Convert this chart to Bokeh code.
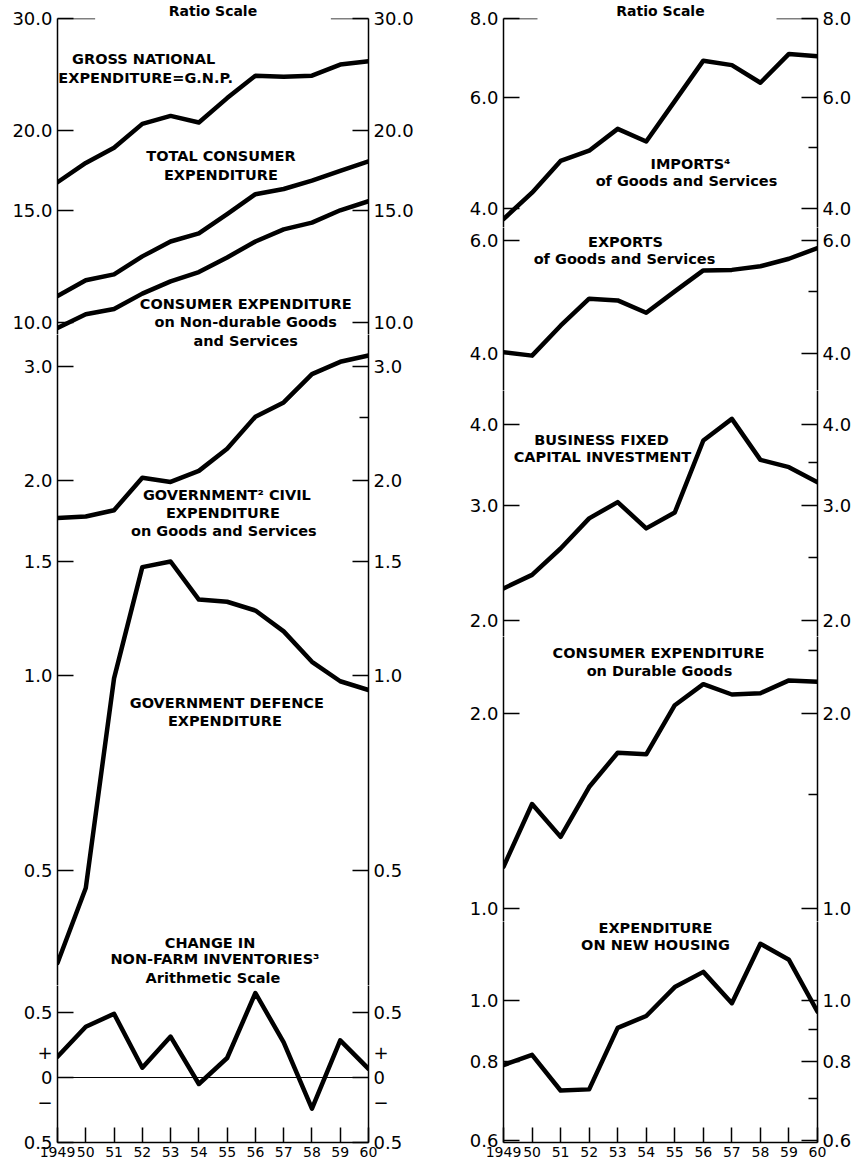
import math
from bokeh.plotting import figure
from bokeh.models import Range1d, FixedTicker, LogAxis, LinearAxis, Label, Span, Arrow, PrintfTickFormatter
from bokeh.layouts import row, column
from bokeh.embed import file_html
from bokeh.resources import INLINE

# ---------------- data ----------------
YEARS = list(range(1949, 1961))
YEAR_LABELS = ["1949", "50", "51", "52", "53", "54", "55", "56", "57", "58", "59", "60"]

GNP = [16.6, 17.8, 18.8, 20.5, 21.1, 20.6, 22.5, 24.4, 24.3, 24.4, 25.4, 25.7]
TOTAL_CONSUMER = [11.0, 11.65, 11.9, 12.7, 13.4, 13.8, 14.8, 15.9, 16.2, 16.7, 17.3, 17.9]
NONDURABLE = [9.8, 10.3, 10.5, 11.1, 11.6, 12.0, 12.65, 13.4, 14.0, 14.35, 15.0, 15.5]
GOV_CIVIL = [1.75, 1.76, 1.80, 2.02, 1.99, 2.07, 2.24, 2.51, 2.64, 2.92, 3.05, 3.12]
GOV_DEFENCE = [0.36, 0.47, 0.99, 1.47, 1.50, 1.31, 1.30, 1.26, 1.17, 1.05, 0.98, 0.95]
INVENTORIES = [0.16, 0.39, 0.49, 0.075, 0.315, -0.05, 0.15, 0.65, 0.27, -0.24, 0.285, 0.067]
IMPORTS = [3.85, 4.24, 4.76, 4.94, 5.35, 5.11, 5.92, 6.86, 6.75, 6.33, 7.03, 6.97]
EXPORTS = [4.02, 3.97, 4.42, 4.87, 4.84, 4.63, 5.0, 5.39, 5.40, 5.47, 5.62, 5.84]
BUSINESS_INV = [2.24, 2.35, 2.58, 2.87, 3.04, 2.77, 2.93, 3.78, 4.08, 3.53, 3.44, 3.26]
DURABLES = [1.16, 1.45, 1.29, 1.54, 1.74, 1.73, 2.06, 2.22, 2.14, 2.15, 2.25, 2.24]
HOUSING = [0.79, 0.82, 0.72, 0.723, 0.905, 0.945, 1.05, 1.11, 0.99, 1.23, 1.16, 0.96]

TICKS_A = [10, 15, 20, 30]
TICKS_B = [0.5, 1.0, 1.5, 2.0, 3.0]
MINOR_B = [2.5]
TICKS_C = [-0.5, 0, 0.5]
TICK_LABELS_C = ["0.5", "+\n0\n\u2212", "0.5"]
TICKS_R1 = [4, 6, 8]
MINOR_R1 = [5, 7]
TICKS_R2 = [4, 6]
MINOR_R2 = [5]
TICKS_R3 = [2, 3, 4]
MINOR_R3 = [2.5, 3.5]
TICKS_R4 = [1, 2]
MINOR_R4 = [1.5, 2.5]
TICKS_R5 = [0.6, 0.8, 1.0]
MINOR_R5 = [0.7, 0.9]

FONT = "DejaVu Sans"
LW = 4.5
TXT = "14.5px"


def style_axis(ax, ticks, minor, size="18px"):
    ax.ticker = FixedTicker(ticks=ticks, minor_ticks=minor)
    ax.major_tick_in = 16
    ax.major_tick_out = 0
    ax.minor_tick_in = 9
    ax.minor_tick_out = 0
    ax.axis_line_width = 1.5
    ax.major_tick_line_width = 1.5
    ax.minor_tick_line_width = 1.5
    ax.axis_line_color = "black"
    ax.major_tick_line_color = "black"
    ax.minor_tick_line_color = "black"
    ax.major_label_text_font = FONT
    ax.major_label_text_font_size = size
    ax.major_label_text_color = "black"
    ax.major_label_standoff = 5


def panel(width, height, bl, br, bt, bb, yr, log, ticks, minor, bottom=False, overrides=None, title=None):
    kw = {}
    if title:
        kw["title"] = title
    p = figure(width=width, height=height,
               x_range=Range1d(1949, 1960), y_range=Range1d(*yr),
               y_axis_type="log" if log else "linear",
               x_axis_location="below" if bottom else None,
               output_backend="svg", toolbar_location=None,
               min_border_left=bl, min_border_right=br,
               min_border_top=bt, min_border_bottom=bb, **kw)
    if title:
        p.title.align = "center"
        p.title.text_font = FONT
        p.title.text_font_style = "bold"
        p.title.text_font_size = "14px"
        p.title.text_color = "black"
        p.title.standoff = 0
    p.outline_line_color = None
    p.background_fill_color = "white"
    p.border_fill_color = "white"
    p.grid.visible = False
    left = p.yaxis[0]
    style_axis(left, ticks, [])
    right = LogAxis() if log else LinearAxis()
    style_axis(right, ticks, minor)
    if log:
        left.formatter = PrintfTickFormatter(format="%.1f")
        right.formatter = PrintfTickFormatter(format="%.1f")
    if overrides:
        left.major_label_overrides = overrides
        right.major_label_overrides = overrides
    p.add_layout(right, "right")
    if bottom:
        xa = p.xaxis[0]
        style_axis(xa, YEARS, [], size="14px")
        xa.major_tick_in = 15
        xa.major_label_standoff = 4
        xa.major_label_overrides = dict(zip(YEARS, YEAR_LABELS))
    return p


def mapper_log(x0, v0, y0, k):
    return lambda xr, yr: (1949 + (xr - x0) / 28.55, v0 * math.exp(-(yr - y0) / k))


def txt(p, m, text, xr, yr, size=TXT, bold=True):
    x, y = m(xr, yr)
    p.add_layout(Label(x=x, y=y, text=text, text_align="center", text_baseline="middle",
                       text_font=FONT, text_font_style="bold" if bold else "normal",
                       text_font_size=size, text_color="black"))


def series(p, vals):
    p.line(YEARS, vals, line_width=LW, line_color="black", line_join="round", line_cap="round")


def top_ticks(p, top, left_len, right_len):
    p.add_layout(Arrow(end=None, start=None, x_start=1949, y_start=top, x_end=1949 + left_len / 28.55,
                       y_end=top, line_width=1.5, line_color="black"))
    p.add_layout(Arrow(end=None, start=None, x_start=1960 - right_len / 28.55, y_start=top, x_end=1960,
                       y_end=top, line_width=1.5, line_color="black"))


LW_L, LB_L, RB_L = 416, 57, 45
LW_R, LB_R, RB_R = 443, 87, 42

# ---------------- left column ----------------
pA = panel(LW_L, 334, LB_L, RB_L, 17, 0, (9.576, 30), True, TICKS_A, [], title="Ratio Scale")
for s in (GNP, TOTAL_CONSUMER, NONDURABLE):
    series(pA, s)
top_ticks(pA, 30, 38, 38)
mA = mapper_log(57, 30, 17, 277.6)
txt(pA, mA, "GROSS NATIONAL", 144, 58)
txt(pA, mA, "EXPENDITURE=G.N.P.", 146, 77)
txt(pA, mA, "TOTAL CONSUMER", 222, 155)
txt(pA, mA, "EXPENDITURE", 222, 174)
txt(pA, mA, "CONSUMER EXPENDITURE", 247, 303)
txt(pA, mA, "on Non-durable Goods", 247, 321)

pB = panel(LW_L, 651, LB_L, RB_L, 0, 0, (0.3323, 3.361), True, TICKS_B, MINOR_B)
series(pB, GOV_CIVIL)
series(pB, GOV_DEFENCE)
mB = mapper_log(57, 3.0, 366, 281.3)
txt(pB, mB, "and Services", 247, 341)
txt(pB, mB, "GOVERNMENT\u00b2 CIVIL", 228, 495)
txt(pB, mB, "EXPENDITURE", 224, 513)
txt(pB, mB, "on Goods and Services", 225, 531)
txt(pB, mB, "GOVERNMENT DEFENCE", 228, 702)
txt(pB, mB, "EXPENDITURE", 226, 720)
txt(pB, mB, "CHANGE IN", 211, 942)
txt(pB, mB, "NON-FARM INVENTORIES\u00b3", 216, 958)
txt(pB, mB, "Arithmetic Scale", 214, 977)

pC = panel(LW_L, 182, LB_L, RB_L, 0, 25, (-0.5, 0.7077), False, TICKS_C, [], bottom=True,
           overrides=dict(zip(TICKS_C, TICK_LABELS_C)))
pC.add_layout(Span(location=0, dimension="width", line_color="black", line_width=1))
series(pC, INVENTORIES)

# ---------------- right column ----------------
p1 = panel(LW_R, 227, LB_R, RB_R, 17, 0, (3.734, 8.0), True, TICKS_R1, MINOR_R1, title="Ratio Scale")
series(p1, IMPORTS)
top_ticks(p1, 8.0, 34, 41)
m1 = mapper_log(503, 8.0, 17, 275.6)
txt(p1, m1, "IMPORTS\u2074", 690, 163)
txt(p1, m1, "of Goods and Services", 686, 180)

p2 = panel(LW_R, 163, LB_R, RB_R, 0, 0, (3.503, 6.287), True, TICKS_R2, MINOR_R2)
series(p2, EXPORTS)
m2 = mapper_log(503, 6.0, 240, 278.7)
txt(p2, m2, "EXPORTS", 625, 241)
txt(p2, m2, "of Goods and Services", 624, 258)

p3 = panel(LW_R, 246, LB_R, RB_R, 0, 0, (1.890, 4.511), True, TICKS_R3, MINOR_R3)
series(p3, BUSINESS_INV)
m3 = mapper_log(503, 4.0, 424, 282.8)
txt(p3, m3, "BUSINESS FIXED", 601, 440)
txt(p3, m3, "CAPITAL INVESTMENT", 602, 457)

p4 = panel(LW_R, 285, LB_R, RB_R, 0, 0, (0.9548, 2.630), True, TICKS_R4, MINOR_R4)
series(p4, DURABLES)
m4 = mapper_log(503, 2.0, 713, 281.3)
txt(p4, m4, "CONSUMER EXPENDITURE", 658, 652)
txt(p4, m4, "on Durable Goods", 659, 670)

p5 = panel(LW_R, 246, LB_R, RB_R, 0, 25, (0.5956, 1.334), True, TICKS_R5, MINOR_R5, bottom=True)
series(p5, HOUSING)
m5 = mapper_log(503, 1.0, 1000, 274.0)
txt(p5, m5, "EXPENDITURE", 655, 928)
txt(p5, m5, "ON NEW HOUSING", 655, 945)

layout = row(column(pA, pB, pC, spacing=0), column(p1, p2, p3, p4, p5, spacing=0), spacing=0)

open("out.html", "w").write(file_html(layout, INLINE))
